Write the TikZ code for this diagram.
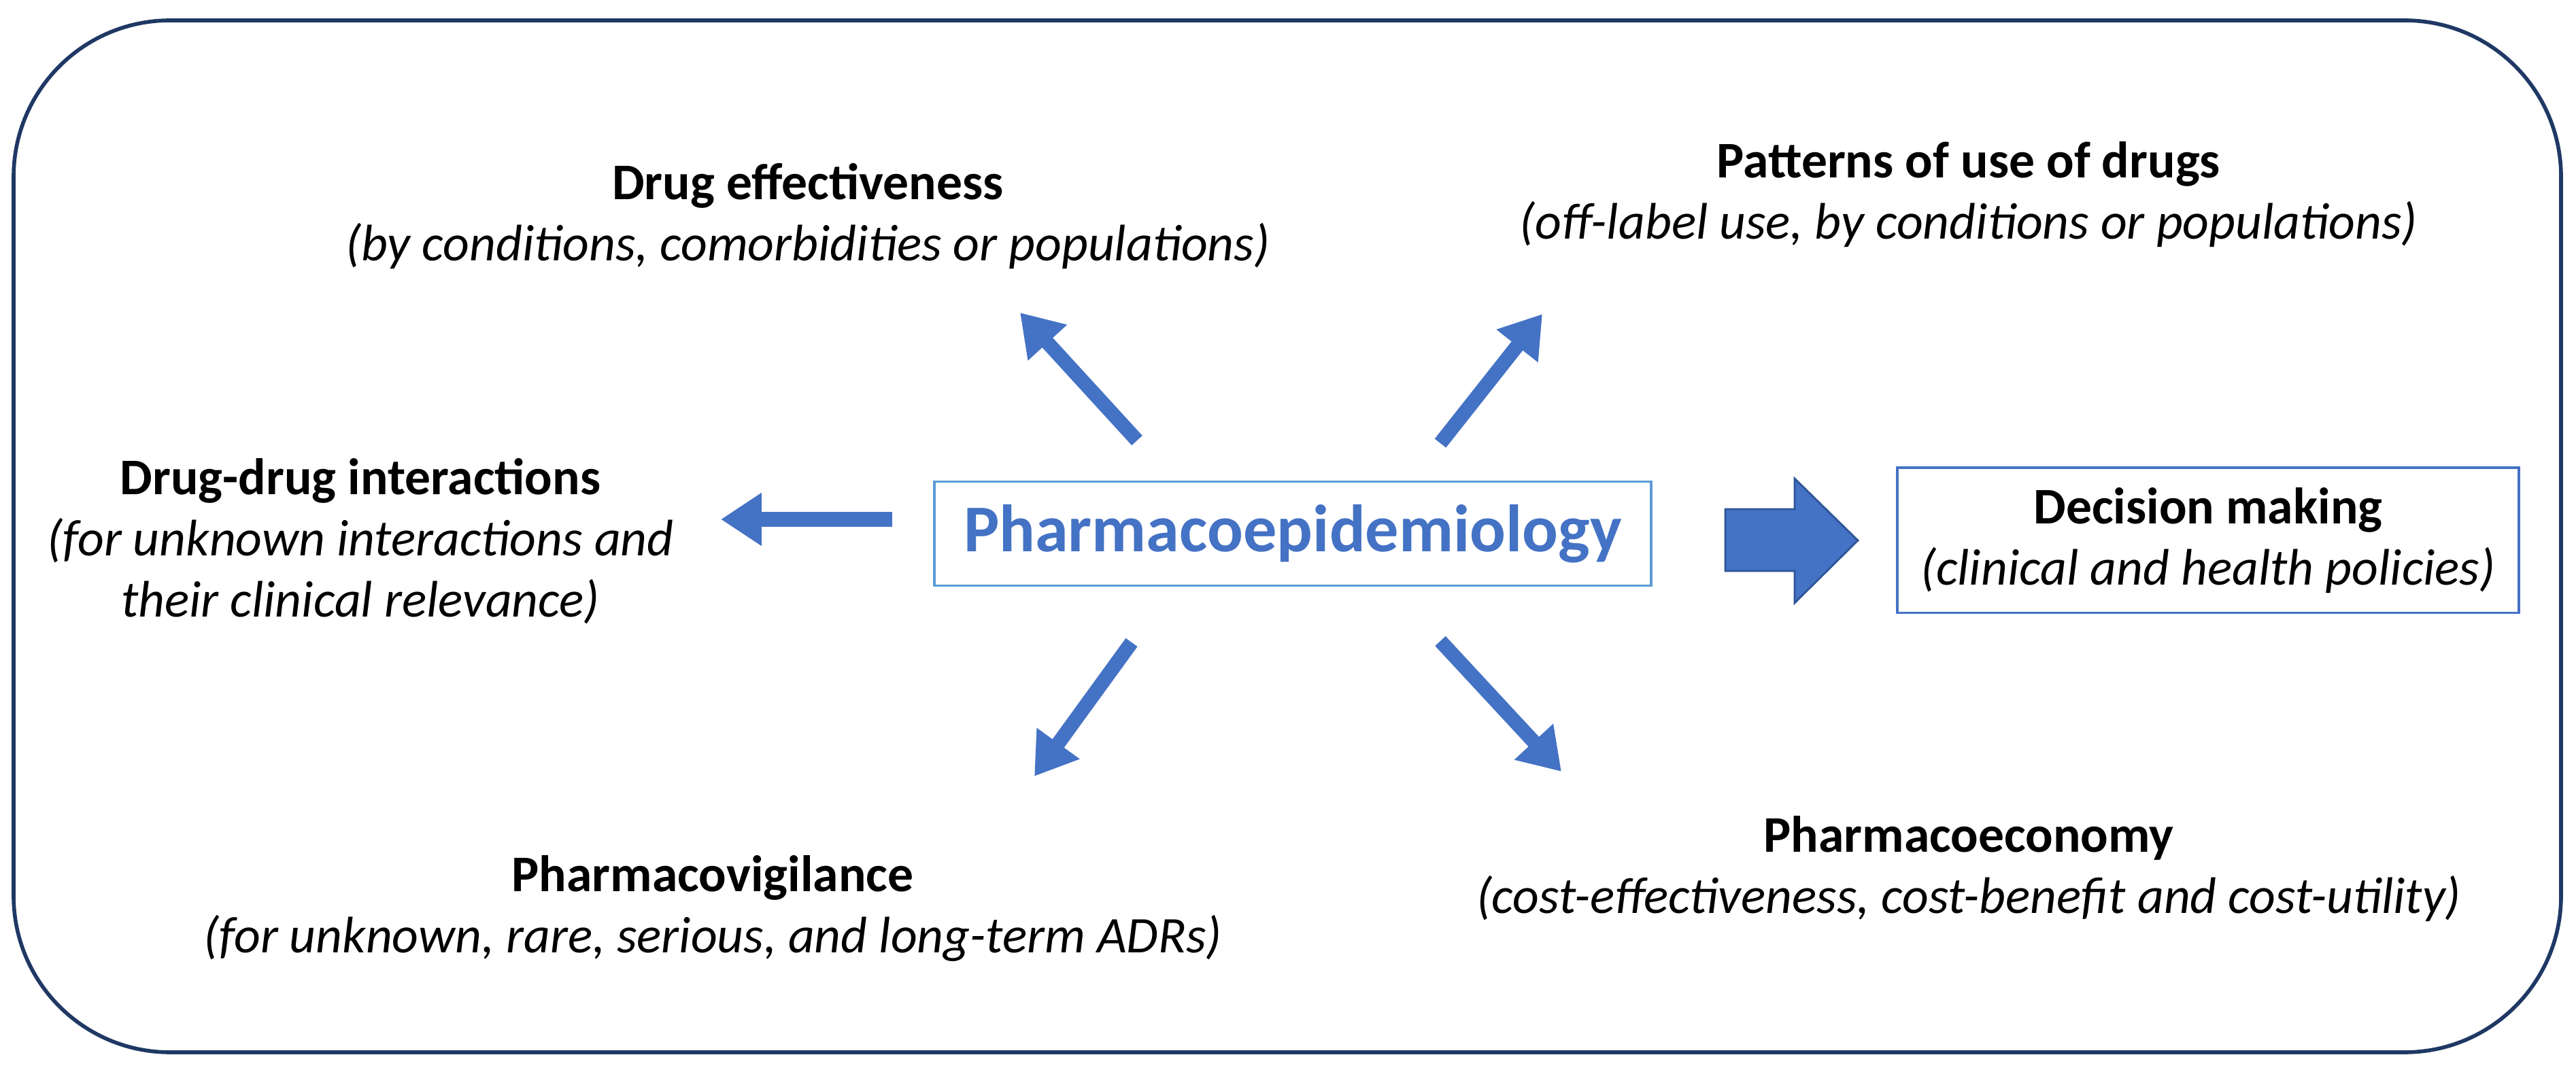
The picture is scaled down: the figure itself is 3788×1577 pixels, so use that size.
\documentclass[tikz,border=0pt]{standalone}
\usepackage{fontspec}
\setmainfont{Carlito}
\usetikzlibrary{arrows.meta}
\definecolor{pblue}{HTML}{4472C4}
\definecolor{plight}{HTML}{5B9BD5}
\definecolor{pnavy}{HTML}{1F3864}
\definecolor{pdark}{HTML}{2F5597}
\begin{document}
\begin{tikzpicture}[x=0.01cm,y=-0.01cm,
  topic/.style={align=center,font=\fontsize{21.5}{25.6}\selectfont},
  spoke/.style={pblue,line width=6pt,-{Triangle[length=17pt,width=21pt]}}]
\useasboundingbox (0,0) rectangle (3788,1577);
\draw[pnavy,line width=1.6pt,rounded corners=2.3cm] (20,30) rectangle (3766,1548);

% centre and outcome
\node[draw=plight,line width=1.1pt,text=pblue,font=\fontsize{28}{34}\selectfont\bfseries,
  minimum width=10.54cm,minimum height=1.53cm] (pe) at (1901,785) {Pharmacoepidemiology};
\node[draw=pblue,line width=1.1pt,topic,minimum width=9.14cm,minimum height=2.13cm]
  (dm) at (3247,795) {\textbf{Decision making}\\\textit{(clinical and health policies)}};

% topics
\node[topic] (eff) at (1188,318) {\textbf{Drug effectiveness}\\\textit{(by conditions, comorbidities or populations)}};
\node[topic] (pat) at (2895,286) {\textbf{Patterns of use of drugs}\\\textit{(off-label use, by conditions or populations)}};
\node[topic] (ddi) at (530,796) {\textbf{Drug-drug interactions}\\\textit{(for unknown interactions and}\\\textit{their clinical relevance)}};
\node[topic] (pv) at (1048,1336) {\textbf{Pharmacovigilance}\\\textit{(for unknown, rare, serious, and long-term ADRs)}};
\node[topic] (ec) at (2895,1278) {\textbf{Pharmacoeconomy}\\\textit{(cost-effectiveness, cost-benefit and cost-utility)}};

% spokes
\coordinate (s1) at (1672,648); \coordinate (e1) at (1500,460);
\coordinate (s2) at (2118,652); \coordinate (e2) at (2268,462);
\coordinate (s3) at (1312,764); \coordinate (e3) at (1060,764);
\coordinate (s4) at (1664,945); \coordinate (e4) at (1521,1142);
\coordinate (s5) at (2118,943); \coordinate (e5) at (2296,1135);
\foreach \i in {1,...,5}
  \draw[spoke] (s\i) -- (e\i);

% block arrow
\fill[pblue,draw=pdark,line width=0.8pt] (2537,749) -- (2639,749) -- (2639,704) -- (2732,795)
  -- (2639,887) -- (2639,840) -- (2537,840) -- cycle;
\end{tikzpicture}
\end{document}
